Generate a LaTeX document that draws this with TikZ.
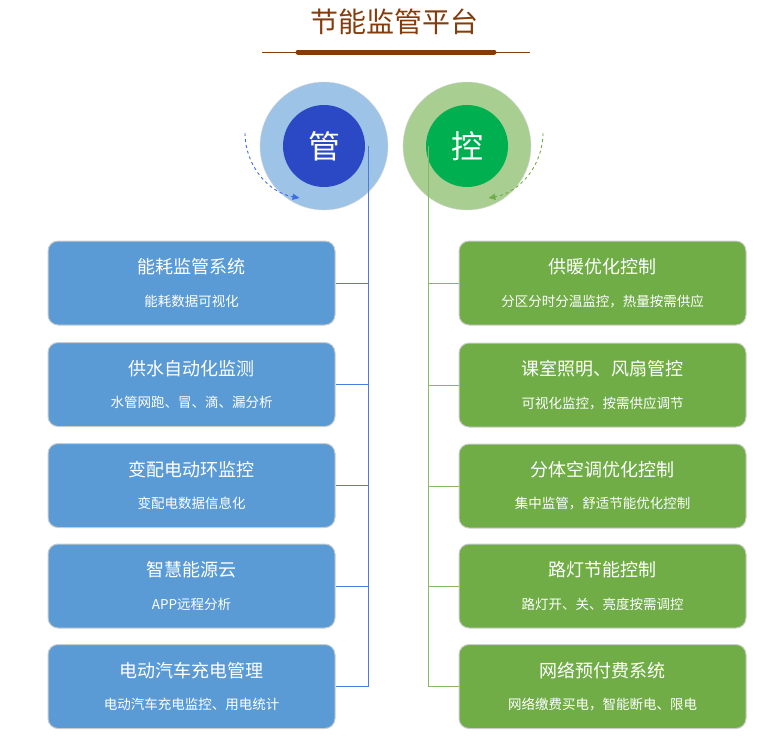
\documentclass[tikz,border=0pt]{standalone}
\usepackage{fontspec}
\setmainfont{Noto Sans CJK SC}
\usetikzlibrary{arrows.meta}
\definecolor{brn}{HTML}{843C0C}
\definecolor{lb}{HTML}{5B9BD5}
\definecolor{gb}{HTML}{70AD47}
\tikzset{
 box/.style={draw=black!20,line width=1pt,rounded corners=10pt,minimum width=287pt,minimum height=84pt,inner sep=0pt},
 head/.style={text=white,font=\fontsize{18}{20}\selectfont},
 sub/.style={text=white,font=\fontsize{13.5}{15}\selectfont},
 lline/.style={draw=lb!80!blue,line width=0.9pt},
 gline/.style={draw=gb!85,line width=0.9pt},
}
\begin{document}
\begin{tikzpicture}[x=1pt,y=-1pt]
\useasboundingbox (0,0) rectangle (766,736);
\node[text=brn,font=\fontsize{28}{30}\selectfont] (title) at (394,22) {节能监管平台};
\draw[brn,line width=0.8pt] (262,52) -- (530,52);
\draw[brn,line width=5pt,line cap=round] (298,52) -- (494,52);
% circles
\node[circle,fill=lb!60,draw=black!15,minimum size=128pt,inner sep=0pt] (lo) at (324,146) {};
\node[circle,fill=blue!45!lb!85!black,minimum size=82pt,inner sep=0pt,text=white,font=\fontsize{32}{34}\selectfont] (li) at (324,146) {管};
\node[circle,fill=gb!60,draw=black!15,minimum size=128pt,inner sep=0pt] (ro) at (467,146) {};
\node[circle,fill={rgb,255:red,0;green,176;blue,80},minimum size=82pt,inner sep=0pt,text=white,font=\fontsize{32}{34}\selectfont] (ri) at (467,146) {控};
\draw[lb!70!blue,dashed,line width=0.9pt,-{Triangle[length=7pt,width=6pt]}] (245,133) arc[start angle=180,end angle=100,radius=66];
\draw[gb,dashed,line width=0.9pt,-{Triangle[length=7pt,width=6pt]}] (543,133) arc[start angle=0,end angle=80,radius=66];
\coordinate (lt) at (368,146);
\coordinate (rt) at (428,146);
% left boxes
\foreach \i/\y/\h/\s in {1/283/能耗监管系统/能耗数据可视化/分析/监管,2/384.5/供水自动化监测/水管网跑、冒、滴、漏分析/监管,3/485.5/变配电动环监控/变配电数据信息化/分析/监管,4/586/智慧能源云/APP远程分析/监管,5/686.5/电动汽车充电管理/电动汽车充电监控、用电统计/监管}{
 \node[box,fill=lb] (L\i) at (191.5,\y) {};
 \node[head] at (191.5,\y-16) {\h};
 \node[sub] at (191.5,\y+18) {\s};
 \draw[lline] (L\i.east) -- (L\i.east -| lt);
}
\foreach \i/\y/\h/\s in {1/283/供暖优化控制/分区分时分温监控，热量按需供应,2/385/课室照明、风扇管控/可视化监控，按需供应调节,3/486/分体空调优化控制/集中监管，舒适节能优化控制,4/586/路灯节能控制/路灯开、关、亮度按需调控,5/686.5/网络预付费系统/网络缴费买电，智能断电、限电}{
 \node[box,fill=gb] (R\i) at (602.5,\y) {};
 \node[head] at (602.5,\y-16) {\h};
 \node[sub] at (602.5,\y+18) {\s};
 \draw[gline] (R\i.west) -- (R\i.west -| rt);
}
\draw[lline] (lt) -- (L5.east -| lt);
\draw[gline] (rt) -- (R5.west -| rt);
\end{tikzpicture}
\end{document}
